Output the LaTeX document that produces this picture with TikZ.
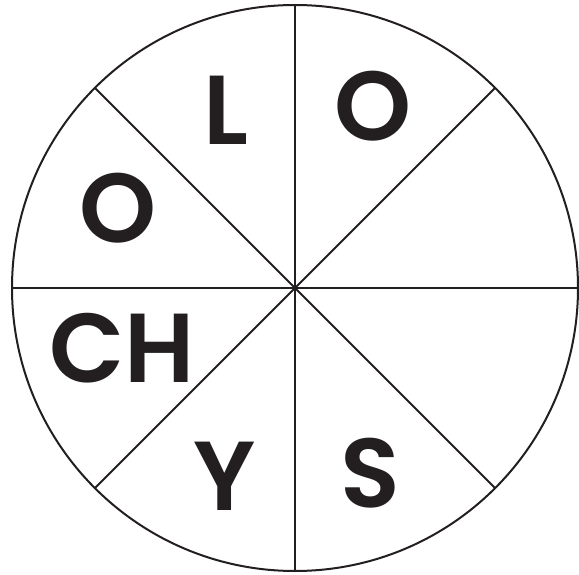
\documentclass[tikz,border=0pt]{standalone}
\usepackage{fontspec}
\setmainfont{Poppins}[BoldFont={Poppins SemiBold}]
\definecolor{ink}{HTML}{231F20}
\begin{document}
\begin{tikzpicture}[x=1pt,y=-1pt,
  seg/.style={draw=ink,line width=2pt},
  letter/.style={anchor=base,inner sep=0pt,text=ink,font=\fontsize{98}{98}\selectfont\bfseries}]
\useasboundingbox (0,0) rectangle (579,575);
\coordinate (c) at (295,288);
\draw[seg] (c) circle[radius=283];
\coordinate (t) at (295,5);
\coordinate (b) at (295,571);
\coordinate (l) at (12,288);
\coordinate (r) at (578,288);
\coordinate (tl) at (94.9,87.9);
\coordinate (tr) at (495.1,87.9);
\coordinate (bl) at (94.9,488.1);
\coordinate (br) at (495.1,488.1);
\draw[seg] (t) -- (b);
\draw[seg] (l) -- (r);
\draw[seg] (tl) -- (br);
\draw[seg] (tr) -- (bl);
\node[letter] (L) at (225.5,145) {L};
\node[letter] (O1) at (373,141) {O};
\node[letter] (O2) at (118,243) {O};
\node[letter] (CH) at (122,382) {CH};
\node[letter] (Y) at (224.5,510) {Y};
\node[letter] (S) at (370,507) {S};
\end{tikzpicture}
\end{document}
